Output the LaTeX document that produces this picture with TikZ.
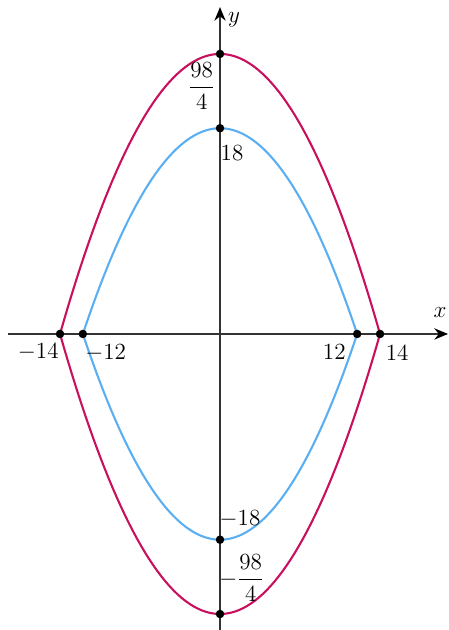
\documentclass[tikz,border=0pt]{standalone}
\usepackage{amsmath}
\usetikzlibrary{arrows.meta}
\definecolor{outerc}{HTML}{C8105E}
\definecolor{innerc}{HTML}{5AAEF2}
\definecolor{axisc}{HTML}{333333}
\begin{document}
\begin{tikzpicture}[x=0.25cm,y=0.25cm,
  axisline/.style={draw=axisc,line width=1.1pt,-{Stealth[length=8.5pt,width=7pt,black]}},
  outercurve/.style={draw=outerc,line width=1.3pt},
  innercurve/.style={draw=innerc,line width=1.3pt},
  dot/.style={circle,fill=black,inner sep=0pt,minimum size=5.3pt},
  lbl/.style={font=\fontsize{13.5}{16}\selectfont,inner sep=1pt}]
\useasboundingbox (-19.25,-25.9) rectangle (19.95,29.22);
% axes
\coordinate (xs) at (-18.55,0);
\coordinate (xe) at (19.95,0);
\coordinate (ys) at (0,-25.9);
\coordinate (ye) at (0,28.6);
\draw[axisline] (xs) -- (xe);
\draw[axisline] (ys) -- (ye);
\node[lbl] (xl) at (19.25,1.84) {$x$};
\node[lbl] (yl) at (1.22,27.5) {$y$};
% curves
\draw[outercurve] plot[domain=-14:14,samples=80] (\x,{24.5-\x*\x/8});
\draw[outercurve] plot[domain=-14:14,samples=80] (\x,{\x*\x/8-24.5});
\draw[innercurve] plot[domain=-12:12,samples=80] (\x,{18-\x*\x/8});
\draw[innercurve] plot[domain=-12:12,samples=80] (\x,{\x*\x/8-18});
% dots
\node[dot] (p1) at (-14,0) {};
\node[dot] (p2) at (-12,0) {};
\node[dot] (p3) at (12,0) {};
\node[dot] (p4) at (14,0) {};
\node[dot] (p5) at (0,24.5) {};
\node[dot] (p6) at (0,18) {};
\node[dot] (p7) at (0,-18) {};
\node[dot] (p8) at (0,-24.5) {};
% labels
\node[lbl] (l1) at (-15.9,-1.6) {$-14$};
\node[lbl] (l2) at (-10,-1.65) {$-12$};
\node[lbl] (l3) at (10,-1.6) {$12$};
\node[lbl] (l4) at (15.5,-1.65) {$14$};
\node[lbl] (l5) at (-1.6,21.7) {$\dfrac{98}{4}$};
\node[lbl] (l6) at (1.05,15.84) {$18$};
\node[lbl] (l7) at (1.75,-16.2) {$-18$};
\node[lbl] (l8) at (1.9,-21.35) {$-\dfrac{98}{4}$};
\end{tikzpicture}
\end{document}
